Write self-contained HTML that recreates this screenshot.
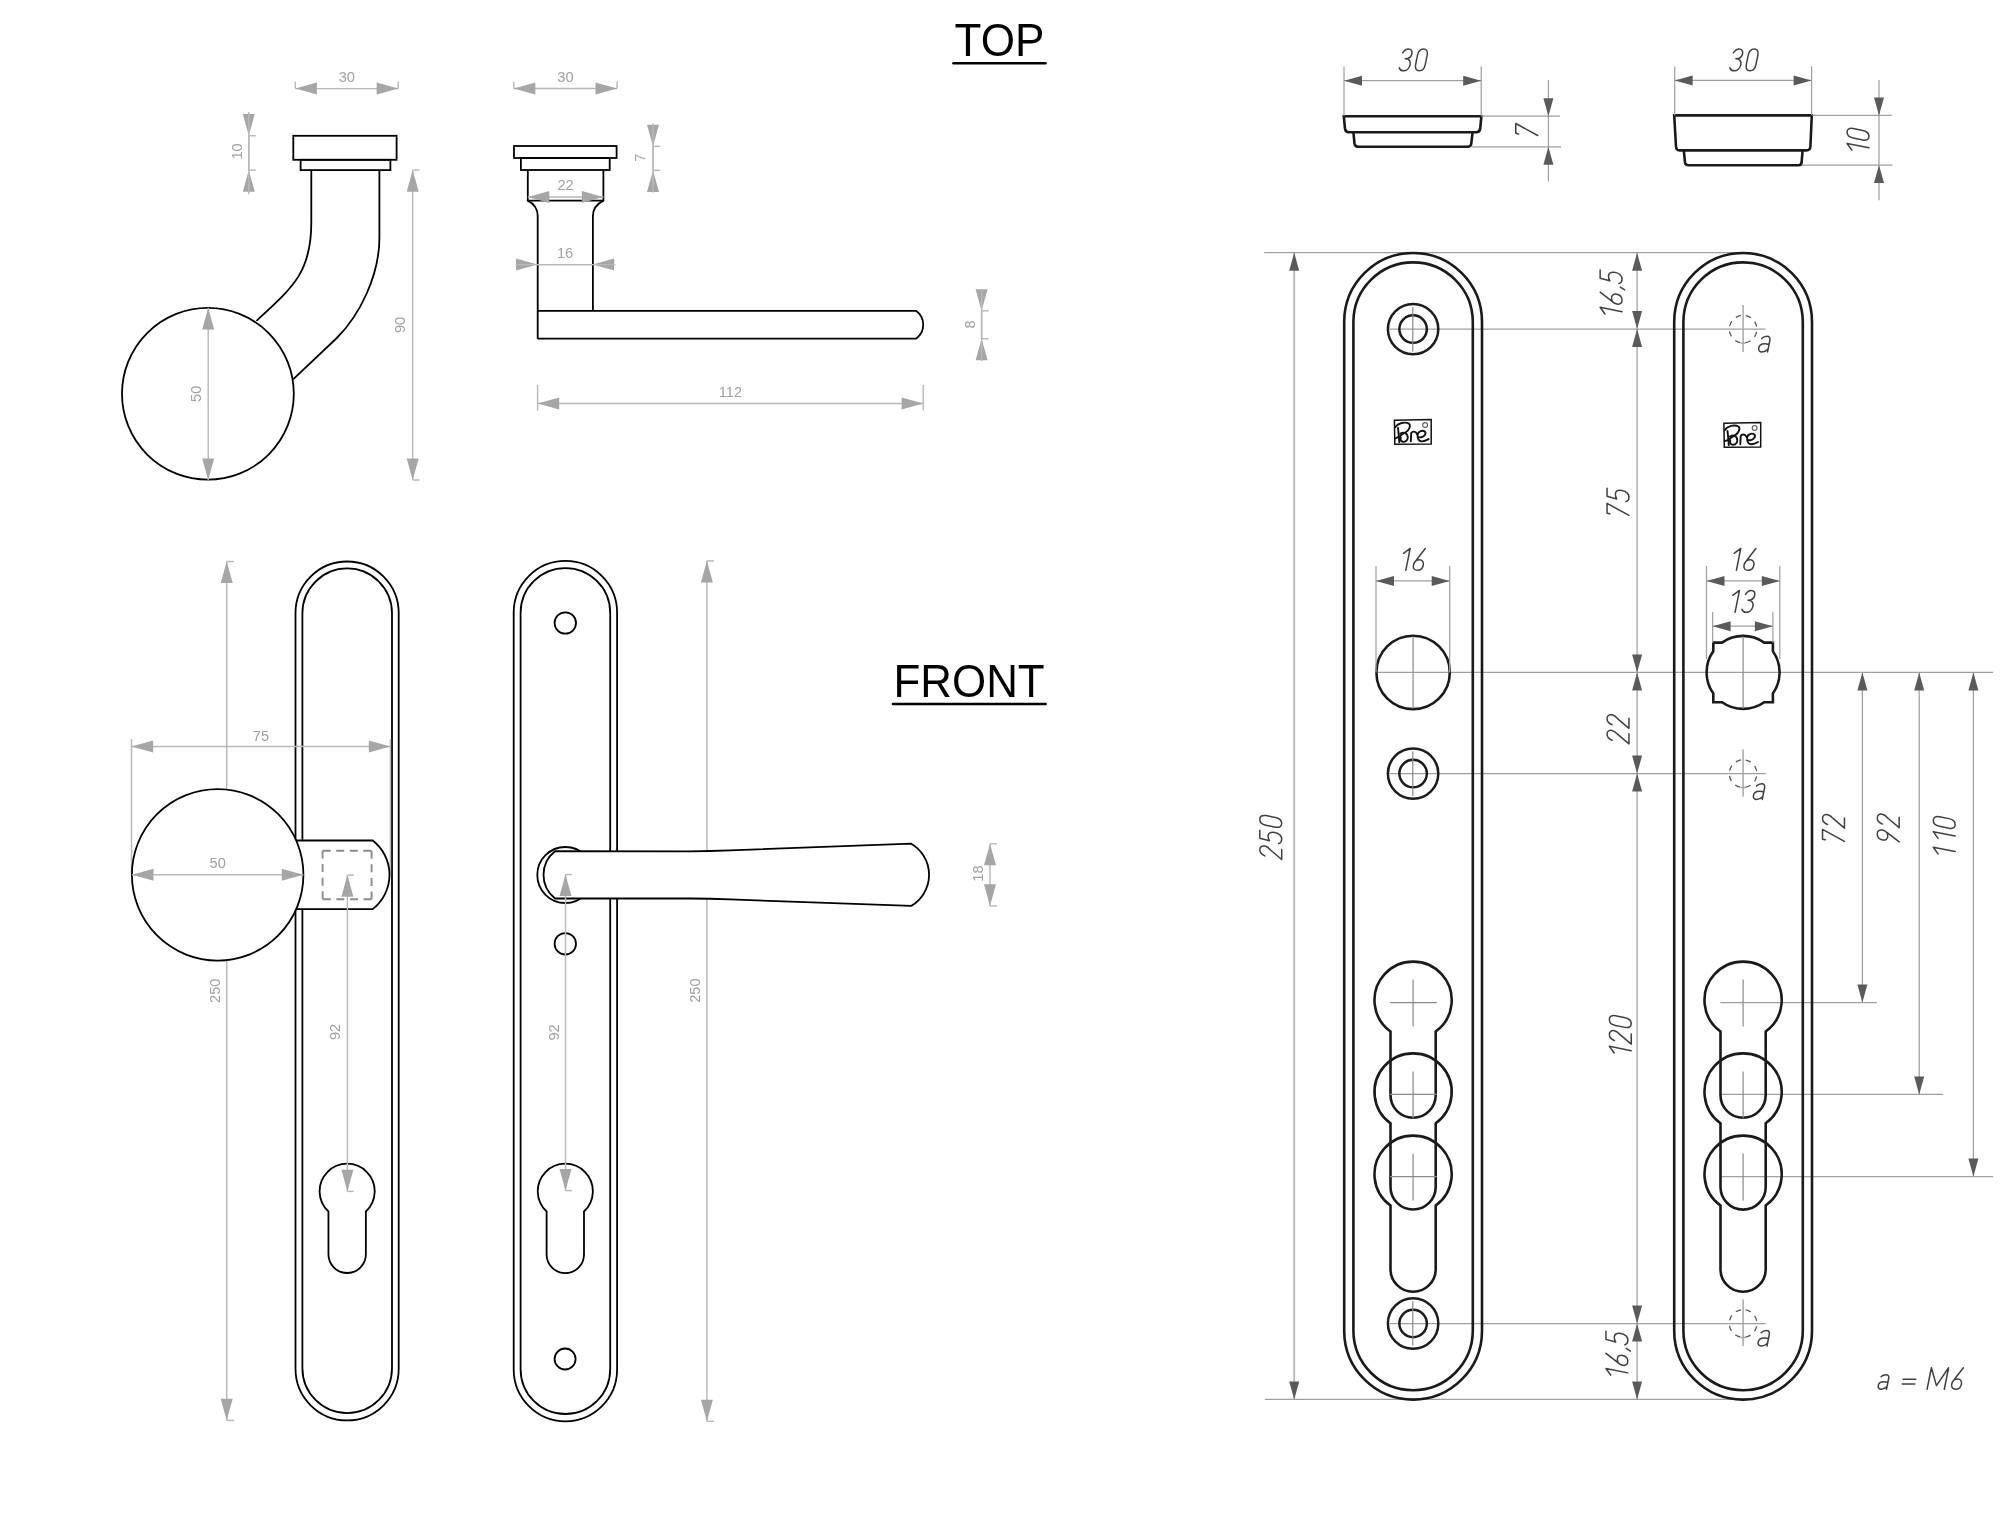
<!DOCTYPE html><html><head><meta charset="utf-8"><style>html,body{margin:0;padding:0;background:#fff;width:2000px;height:1537px;overflow:hidden}</style></head><body><svg width="2000" height="1537" viewBox="0 0 2000 1537" style="position:absolute;left:0;top:0;will-change:transform">
<rect width="2000" height="1537" fill="#fff"/>
<text x="0" y="0" transform="translate(954.5,55.8) scale(0.95,1)" font-family="Liberation Sans, sans-serif" font-size="46.4" fill="#000">TOP</text>
<line x1="953.5" y1="63.2" x2="1045.5" y2="63.2" stroke="#000" stroke-width="2.6" stroke-linecap="round"/>
<text x="0" y="0" transform="translate(893.5,696.8) scale(0.946,1)" font-family="Liberation Sans, sans-serif" font-size="46.4" fill="#000">FRONT</text>
<line x1="893" y1="704" x2="1045.5" y2="704" stroke="#000" stroke-width="2.6" stroke-linecap="round"/>
<rect x="293.3" y="135.8" width="103.3" height="24" stroke="#000" stroke-width="1.8" fill="none"/>
<rect x="300.6" y="159.8" width="89.8" height="10.3" stroke="#000" stroke-width="1.8" fill="none"/>
<path d="M311.3,170.1 L311.3,222.4 C311.3,272.4 293.15,286.9 256.4,320.8" stroke="#000" stroke-width="1.8" fill="none"/>
<path d="M379.4,170.1 L379.4,238 C379.4,275 360,315 336.8,338 L293.1,379.3" stroke="#000" stroke-width="1.8" fill="none"/>
<circle cx="207.9" cy="393.8" r="85.9" stroke="#000" stroke-width="1.8" fill="none"/>
<line x1="295.3" y1="88.6" x2="398.3" y2="88.6" stroke="#b9b9b9" stroke-width="1.45" />
<polygon points="295.3,88.6 316.9,82.6 316.9,94.6" fill="#a6a6a6"/>
<polygon points="398.3,88.6 376.7,94.6 376.7,82.6" fill="#a6a6a6"/>
<text x="346.8" y="82" text-anchor="middle" font-family="Liberation Sans, sans-serif" font-size="14.6" fill="#a0a0a0">30</text>
<line x1="295.3" y1="81.6" x2="295.3" y2="88.6" stroke="#b9b9b9" stroke-width="1.45" />
<line x1="398.3" y1="81.6" x2="398.3" y2="88.6" stroke="#b9b9b9" stroke-width="1.45" />
<line x1="248.8" y1="135.7" x2="248.8" y2="170.1" stroke="#b9b9b9" stroke-width="1.45" />
<polygon points="248.8,135.7 242.8,114.1 254.8,114.1" fill="#a6a6a6"/>
<polygon points="248.8,170.1 254.8,191.7 242.8,191.7" fill="#a6a6a6"/>
<text x="0" y="0" transform="translate(237,151.5) rotate(-90)" text-anchor="middle" dominant-baseline="central" font-family="Liberation Sans, sans-serif" font-size="14.6" fill="#a0a0a0">10</text>
<line x1="248.8" y1="112" x2="248.8" y2="194.3" stroke="#b9b9b9" stroke-width="1.45" />
<line x1="248.8" y1="135.7" x2="255.8" y2="135.7" stroke="#b9b9b9" stroke-width="1.45" />
<line x1="248.8" y1="170.1" x2="255.8" y2="170.1" stroke="#b9b9b9" stroke-width="1.45" />
<line x1="412.7" y1="170.1" x2="412.7" y2="480" stroke="#b9b9b9" stroke-width="1.45" />
<polygon points="412.7,170.1 418.7,191.7 406.7,191.7" fill="#a6a6a6"/>
<polygon points="412.7,480 406.7,458.4 418.7,458.4" fill="#a6a6a6"/>
<text x="0" y="0" transform="translate(400,325) rotate(-90)" text-anchor="middle" dominant-baseline="central" font-family="Liberation Sans, sans-serif" font-size="14.6" fill="#a0a0a0">90</text>
<line x1="412.7" y1="170.1" x2="419.5" y2="170.1" stroke="#b9b9b9" stroke-width="1.45" />
<line x1="412.7" y1="480" x2="419.5" y2="480" stroke="#b9b9b9" stroke-width="1.45" />
<line x1="208.2" y1="307.8" x2="208.2" y2="480" stroke="#b9b9b9" stroke-width="1.45" />
<polygon points="208.2,307.8 214.2,329.4 202.2,329.4" fill="#a6a6a6"/>
<polygon points="208.2,480 202.2,458.4 214.2,458.4" fill="#a6a6a6"/>
<text x="0" y="0" transform="translate(196.2,393.8) rotate(-90)" text-anchor="middle" dominant-baseline="central" font-family="Liberation Sans, sans-serif" font-size="14.6" fill="#a0a0a0">50</text>
<rect x="514" y="146" width="102.6" height="12" stroke="#000" stroke-width="1.8" fill="none"/>
<rect x="520.9" y="158" width="88.8" height="12" stroke="#000" stroke-width="1.8" fill="none"/>
<path d="M527.8,170 L527.8,200.6 L603.4,200.6 L603.4,170" stroke="#000" stroke-width="1.8" fill="none"/>
<path d="M527.8,200.6 C533.5,203.5 537.7,208 537.7,216 L537.7,338.7 M603.4,200.6 C597.7,203.5 592.9,208 592.9,216 L592.9,310.8" stroke="#000" stroke-width="1.8" fill="none"/>
<path d="M537.6,310.8 L916,310.8 A17.1,17.1 0 0 1 916,338.7 L537.6,338.7" stroke="#000" stroke-width="1.8" fill="none"/>
<line x1="513.7" y1="88.5" x2="617.1" y2="88.5" stroke="#b9b9b9" stroke-width="1.45" />
<polygon points="513.7,88.5 535.3,82.5 535.3,94.5" fill="#a6a6a6"/>
<polygon points="617.1,88.5 595.5,94.5 595.5,82.5" fill="#a6a6a6"/>
<text x="565.4" y="82" text-anchor="middle" font-family="Liberation Sans, sans-serif" font-size="14.6" fill="#a0a0a0">30</text>
<line x1="513.7" y1="81.6" x2="513.7" y2="88.5" stroke="#b9b9b9" stroke-width="1.45" />
<line x1="617.1" y1="81.6" x2="617.1" y2="88.5" stroke="#b9b9b9" stroke-width="1.45" />
<line x1="527.8" y1="197" x2="603.4" y2="197" stroke="#b9b9b9" stroke-width="1.45" />
<polygon points="527.8,197 549.4,191 549.4,203" fill="#a6a6a6"/>
<polygon points="603.4,197 581.8,203 581.8,191" fill="#a6a6a6"/>
<text x="565.6" y="190.1" text-anchor="middle" font-family="Liberation Sans, sans-serif" font-size="14.6" fill="#a0a0a0">22</text>
<line x1="537.6" y1="264.6" x2="592.6" y2="264.6" stroke="#b9b9b9" stroke-width="1.45" />
<polygon points="537.6,264.6 516,270.6 516,258.6" fill="#a6a6a6"/>
<polygon points="592.6,264.6 614.2,258.6 614.2,270.6" fill="#a6a6a6"/>
<text x="565.1" y="258" text-anchor="middle" font-family="Liberation Sans, sans-serif" font-size="14.6" fill="#a0a0a0">16</text>
<line x1="515.6" y1="264.6" x2="615.4" y2="264.6" stroke="#b9b9b9" stroke-width="1.45" />
<line x1="653" y1="146.3" x2="653" y2="170.3" stroke="#b9b9b9" stroke-width="1.45" />
<polygon points="653,146.3 647,124.7 659,124.7" fill="#a6a6a6"/>
<polygon points="653,170.3 659,191.9 647,191.9" fill="#a6a6a6"/>
<text x="0" y="0" transform="translate(640,157.7) rotate(-90)" text-anchor="middle" dominant-baseline="central" font-family="Liberation Sans, sans-serif" font-size="14.6" fill="#a0a0a0">7</text>
<line x1="653" y1="123.5" x2="653" y2="192.5" stroke="#b9b9b9" stroke-width="1.45" />
<line x1="653" y1="146.3" x2="660" y2="146.3" stroke="#b9b9b9" stroke-width="1.45" />
<line x1="653" y1="170.3" x2="660" y2="170.3" stroke="#b9b9b9" stroke-width="1.45" />
<line x1="981.6" y1="310.8" x2="981.6" y2="338.7" stroke="#b9b9b9" stroke-width="1.45" />
<polygon points="981.6,310.8 975.6,289.2 987.6,289.2" fill="#a6a6a6"/>
<polygon points="981.6,338.7 987.6,360.3 975.6,360.3" fill="#a6a6a6"/>
<text x="0" y="0" transform="translate(969.6,324.4) rotate(-90)" text-anchor="middle" dominant-baseline="central" font-family="Liberation Sans, sans-serif" font-size="14.6" fill="#a0a0a0">8</text>
<line x1="981.6" y1="288.8" x2="981.6" y2="361.2" stroke="#b9b9b9" stroke-width="1.45" />
<line x1="981.6" y1="310.8" x2="988.6" y2="310.8" stroke="#b9b9b9" stroke-width="1.45" />
<line x1="981.6" y1="338.7" x2="988.6" y2="338.7" stroke="#b9b9b9" stroke-width="1.45" />
<line x1="537.6" y1="403.4" x2="923.2" y2="403.4" stroke="#b9b9b9" stroke-width="1.45" />
<polygon points="537.6,403.4 559.2,397.4 559.2,409.4" fill="#a6a6a6"/>
<polygon points="923.2,403.4 901.6,409.4 901.6,397.4" fill="#a6a6a6"/>
<text x="730.4" y="397" text-anchor="middle" font-family="Liberation Sans, sans-serif" font-size="14.6" fill="#a0a0a0">112</text>
<line x1="537.6" y1="384.9" x2="537.6" y2="410.5" stroke="#b9b9b9" stroke-width="1.45" />
<line x1="923.2" y1="384.9" x2="923.2" y2="410.5" stroke="#b9b9b9" stroke-width="1.45" />
<rect x="295.5" y="561.5" width="103.2" height="858.9" rx="51.6" ry="51.6" stroke="#000" stroke-width="1.8" fill="none"/>
<rect x="302.4" y="568.4" width="89.6" height="844.7" rx="44.8" ry="44.8" stroke="#000" stroke-width="1.8" fill="none"/>
<path d="M328.45,1211.48 A27.55,27.55 0 1 1 365.85,1211.48 L365.85,1254.3 A18.7,18.7 0 0 1 328.45,1254.3 Z" stroke="#000" stroke-width="1.8" fill="none"/>
<line x1="226.7" y1="561.5" x2="226.7" y2="1420.4" stroke="#b9b9b9" stroke-width="1.45" />
<polygon points="226.7,561.5 232.7,583.1 220.7,583.1" fill="#a6a6a6"/>
<polygon points="226.7,1420.4 220.7,1398.8 232.7,1398.8" fill="#a6a6a6"/>
<text x="0" y="0" transform="translate(215,990.8) rotate(-90)" text-anchor="middle" dominant-baseline="central" font-family="Liberation Sans, sans-serif" font-size="14.6" fill="#a0a0a0">250</text>
<line x1="226.7" y1="561.5" x2="234" y2="561.5" stroke="#b9b9b9" stroke-width="1.45" />
<line x1="226.7" y1="1420.4" x2="234" y2="1420.4" stroke="#b9b9b9" stroke-width="1.45" />
<line x1="131.5" y1="739" x2="131.5" y2="874.5" stroke="#b9b9b9" stroke-width="1.45" />
<line x1="390.4" y1="739" x2="390.4" y2="874.5" stroke="#b9b9b9" stroke-width="1.45" />
<line x1="131.5" y1="746.5" x2="390.4" y2="746.5" stroke="#b9b9b9" stroke-width="1.45" />
<polygon points="131.5,746.5 153.1,740.5 153.1,752.5" fill="#a6a6a6"/>
<polygon points="390.4,746.5 368.8,752.5 368.8,740.5" fill="#a6a6a6"/>
<text x="260.95" y="741" text-anchor="middle" font-family="Liberation Sans, sans-serif" font-size="14.6" fill="#a0a0a0">75</text>
<path d="M280,840.5 L372.7,840.5 A43.4,43.4 0 0 1 372.7,909.1 L280,909.1 Z" fill="#fff" stroke="#000" stroke-width="1.8"/>
<circle cx="217.65" cy="874.85" r="85.75" fill="#fff" stroke="#000" stroke-width="1.8"/>
<line x1="322.6" y1="850.7" x2="371.6" y2="850.7" stroke="#8c8c8c" stroke-width="1.9" stroke-dasharray="8,5.6"/>
<line x1="371.6" y1="850.7" x2="371.6" y2="899.3" stroke="#8c8c8c" stroke-width="1.9" stroke-dasharray="8,5.6"/>
<line x1="371.6" y1="899.3" x2="322.6" y2="899.3" stroke="#8c8c8c" stroke-width="1.9" stroke-dasharray="8,5.6"/>
<line x1="322.6" y1="899.3" x2="322.6" y2="850.7" stroke="#8c8c8c" stroke-width="1.9" stroke-dasharray="8,5.6"/>
<line x1="131.9" y1="874.8" x2="303.4" y2="874.8" stroke="#b9b9b9" stroke-width="1.45" />
<polygon points="131.9,874.8 153.5,868.8 153.5,880.8" fill="#a6a6a6"/>
<polygon points="303.4,874.8 281.8,880.8 281.8,868.8" fill="#a6a6a6"/>
<text x="217.65" y="868.3" text-anchor="middle" font-family="Liberation Sans, sans-serif" font-size="14.6" fill="#a0a0a0">50</text>
<line x1="347.4" y1="875.1" x2="347.4" y2="1191.4" stroke="#b9b9b9" stroke-width="1.45" />
<polygon points="347.4,875.1 353.4,896.7 341.4,896.7" fill="#a6a6a6"/>
<polygon points="347.4,1191.4 341.4,1169.8 353.4,1169.8" fill="#a6a6a6"/>
<text x="0" y="0" transform="translate(335.2,1032) rotate(-90)" text-anchor="middle" dominant-baseline="central" font-family="Liberation Sans, sans-serif" font-size="14.6" fill="#a0a0a0">92</text>
<line x1="347.4" y1="875.1" x2="353.8" y2="875.1" stroke="#b9b9b9" stroke-width="1.45" />
<line x1="347.4" y1="1191.4" x2="353.8" y2="1191.4" stroke="#b9b9b9" stroke-width="1.45" />
<rect x="513.7" y="560.9" width="103.4" height="860.4" rx="51.7" ry="51.7" stroke="#000" stroke-width="1.8" fill="none"/>
<rect x="520.6" y="568.1" width="89.6" height="845.9" rx="44.8" ry="44.8" stroke="#000" stroke-width="1.8" fill="none"/>
<circle cx="565.3" cy="623" r="10.7" stroke="#000" stroke-width="1.8" fill="none"/>
<circle cx="565.3" cy="943.8" r="10.7" stroke="#000" stroke-width="1.8" fill="none"/>
<circle cx="565.1" cy="1359" r="10.5" stroke="#000" stroke-width="1.8" fill="none"/>
<path d="M546.6,1211.48 A27.55,27.55 0 1 1 584,1211.48 L584,1254.4 A18.7,18.7 0 0 1 546.6,1254.4 Z" stroke="#000" stroke-width="1.8" fill="none"/>
<line x1="706.9" y1="560.9" x2="706.9" y2="1421.3" stroke="#b9b9b9" stroke-width="1.45" />
<polygon points="706.9,560.9 712.9,582.5 700.9,582.5" fill="#a6a6a6"/>
<polygon points="706.9,1421.3 700.9,1399.7 712.9,1399.7" fill="#a6a6a6"/>
<text x="0" y="0" transform="translate(695.3,990.6) rotate(-90)" text-anchor="middle" dominant-baseline="central" font-family="Liberation Sans, sans-serif" font-size="14.6" fill="#a0a0a0">250</text>
<line x1="706.9" y1="560.9" x2="714" y2="560.9" stroke="#b9b9b9" stroke-width="1.45" />
<line x1="706.9" y1="1421.3" x2="714" y2="1421.3" stroke="#b9b9b9" stroke-width="1.45" />
<circle cx="565.3" cy="875" r="28" fill="#fff" stroke="#000" stroke-width="1.8"/>
<path d="M555,851.2 L690,851.3 Q710,851.2 730,850.4 L911.2,843.7 A36,36 0 0 1 911.2,905.9 L730,899.4 Q710,898.6 690,898.5 L555,898.5 A30.1,30.1 0 0 1 555,851.2 Z" fill="#fff" stroke="#000" stroke-width="1.8"/>
<line x1="565.5" y1="874.5" x2="565.5" y2="1190.6" stroke="#b9b9b9" stroke-width="1.45" />
<polygon points="565.5,874.5 571.5,896.1 559.5,896.1" fill="#a6a6a6"/>
<polygon points="565.5,1190.6 559.5,1169 571.5,1169" fill="#a6a6a6"/>
<text x="0" y="0" transform="translate(553.75,1032.5) rotate(-90)" text-anchor="middle" dominant-baseline="central" font-family="Liberation Sans, sans-serif" font-size="14.6" fill="#a0a0a0">92</text>
<line x1="565.5" y1="874.5" x2="572" y2="874.5" stroke="#b9b9b9" stroke-width="1.45" />
<line x1="565.5" y1="1190.6" x2="572" y2="1190.6" stroke="#b9b9b9" stroke-width="1.45" />
<line x1="990" y1="843.7" x2="990" y2="905.9" stroke="#b9b9b9" stroke-width="1.45" />
<polygon points="990,843.7 996,865.3 984,865.3" fill="#a6a6a6"/>
<polygon points="990,905.9 984,884.3 996,884.3" fill="#a6a6a6"/>
<text x="0" y="0" transform="translate(978.4,873.6) rotate(-90)" text-anchor="middle" dominant-baseline="central" font-family="Liberation Sans, sans-serif" font-size="14.6" fill="#a0a0a0">18</text>
<line x1="990" y1="843.7" x2="996.8" y2="843.7" stroke="#b9b9b9" stroke-width="1.45" />
<line x1="990" y1="905.9" x2="996.8" y2="905.9" stroke="#b9b9b9" stroke-width="1.45" />
<path d="M1343.8,116.2 L1481.4,116.2 L1480.2,128.5 Q1479.8,132.2 1476,132.2 L1349,132.2 Q1345.2,132.2 1345,128.5 Z" stroke="#1a1a1a" stroke-width="2.6" fill="none"/>
<path d="M1353.4,132.2 L1354.5,143.5 Q1355,146.8 1358.5,146.8 L1467.5,146.8 Q1471,146.8 1471.3,143.5 L1472.6,132.2" stroke="#1a1a1a" stroke-width="2.6" fill="none"/>
<line x1="1344" y1="66.4" x2="1344" y2="115.8" stroke="#a0a0a0" stroke-width="1.25" />
<line x1="1481.2" y1="66.4" x2="1481.2" y2="115.8" stroke="#a0a0a0" stroke-width="1.25" />
<line x1="1344" y1="80.7" x2="1481.2" y2="80.7" stroke="#a0a0a0" stroke-width="1.25" />
<polygon points="1344,80.7 1362,75.7 1362,85.7" fill="#5a5a5a"/>
<polygon points="1481.2,80.7 1463.2,85.7 1463.2,75.7" fill="#5a5a5a"/>
<path d="M1402.65,52.89C1404.27,50.26 1406.28,48.95 1408.47,48.95C1411.10,48.95 1412.46,50.92 1411.89,53.77C1411.28,56.83 1408.47,58.80 1405.19,58.80C1409.13,58.80 1410.84,61.21 1410.14,64.72C1409.39,68.44 1406.50,70.85 1403.44,70.85C1401.25,70.85 1399.71,69.75 1399.23,67.78M1423.59,48.95C1426.65,48.95 1427.88,51.58 1427.18,55.08L1425.25,64.72C1424.55,68.22 1422.27,70.85 1419.21,70.85C1416.14,70.85 1414.91,68.22 1415.61,64.72L1417.54,55.08C1418.24,51.58 1420.52,48.95 1423.59,48.95Z" fill="none" stroke="#404040" stroke-width="1.5" stroke-linecap="round" stroke-linejoin="round"/>
<line x1="1481.4" y1="116.2" x2="1559.9" y2="116.2" stroke="#a0a0a0" stroke-width="1.25" />
<line x1="1471" y1="146.8" x2="1561" y2="146.8" stroke="#a0a0a0" stroke-width="1.25" />
<line x1="1548.4" y1="80" x2="1548.4" y2="181.5" stroke="#a0a0a0" stroke-width="1.25" />
<polygon points="1548.4,116.2 1543.4,98.2 1553.4,98.2" fill="#5a5a5a"/>
<polygon points="1548.4,146.8 1553.4,164.8 1543.4,164.8" fill="#5a5a5a"/>
<path d="M1518.60,133.90L1515.75,133.33L1515.75,123.48L1537.65,135.52" fill="none" stroke="#404040" stroke-width="1.5" stroke-linecap="round" stroke-linejoin="round"/>
<path d="M1674.2,115.4 L1811.8,115.4 L1810.4,146.5 Q1810.1,150.4 1806.5,150.4 L1679.5,150.4 Q1676.2,150.4 1676,146.5 Z" stroke="#1a1a1a" stroke-width="2.6" fill="none"/>
<path d="M1683.8,150.4 L1685,162.5 Q1685.4,165.2 1688.5,165.2 L1798.5,165.2 Q1801.3,165.2 1801.6,162.5 L1802.6,150.4" stroke="#1a1a1a" stroke-width="2.6" fill="none"/>
<line x1="1674.7" y1="66.4" x2="1674.7" y2="115.2" stroke="#a0a0a0" stroke-width="1.25" />
<line x1="1811.6" y1="66.4" x2="1811.6" y2="115.2" stroke="#a0a0a0" stroke-width="1.25" />
<line x1="1674.7" y1="80.4" x2="1811.6" y2="80.4" stroke="#a0a0a0" stroke-width="1.25" />
<polygon points="1674.7,80.4 1692.7,75.4 1692.7,85.4" fill="#5a5a5a"/>
<polygon points="1811.6,80.4 1793.6,85.4 1793.6,75.4" fill="#5a5a5a"/>
<path d="M1733.35,52.89C1734.97,50.26 1736.98,48.95 1739.17,48.95C1741.80,48.95 1743.16,50.92 1742.59,53.77C1741.98,56.83 1739.17,58.80 1735.89,58.80C1739.83,58.80 1741.54,61.21 1740.84,64.72C1740.09,68.44 1737.20,70.85 1734.14,70.85C1731.95,70.85 1730.41,69.75 1729.93,67.78M1754.29,48.95C1757.35,48.95 1758.58,51.58 1757.88,55.08L1755.95,64.72C1755.25,68.22 1752.97,70.85 1749.91,70.85C1746.84,70.85 1745.61,68.22 1746.31,64.72L1748.24,55.08C1748.94,51.58 1751.22,48.95 1754.29,48.95Z" fill="none" stroke="#404040" stroke-width="1.5" stroke-linecap="round" stroke-linejoin="round"/>
<line x1="1812.5" y1="115.4" x2="1891.8" y2="115.4" stroke="#a0a0a0" stroke-width="1.25" />
<line x1="1802" y1="165" x2="1892.5" y2="165" stroke="#a0a0a0" stroke-width="1.25" />
<line x1="1879" y1="80" x2="1879" y2="200.3" stroke="#a0a0a0" stroke-width="1.25" />
<polygon points="1879,115.4 1874,97.4 1884,97.4" fill="#5a5a5a"/>
<polygon points="1879,165 1884,183 1874,183" fill="#5a5a5a"/>
<path d="M1851.87,150.11L1847.05,143.46L1868.95,147.84M1847.05,132.07C1847.05,129.00 1849.68,127.78 1853.18,128.48L1862.82,130.40C1866.32,131.10 1868.95,133.38 1868.95,136.45C1868.95,139.51 1866.32,140.74 1862.82,140.04L1853.18,138.11C1849.68,137.41 1847.05,135.13 1847.05,132.07Z" fill="none" stroke="#404040" stroke-width="1.5" stroke-linecap="round" stroke-linejoin="round"/>
<line x1="1264.2" y1="252.7" x2="1745" y2="252.7" stroke="#a0a0a0" stroke-width="1.25" />
<line x1="1265" y1="1399.4" x2="1741" y2="1399.4" stroke="#a0a0a0" stroke-width="1.25" />
<line x1="1389.6" y1="329.1" x2="1765.7" y2="329.1" stroke="#a0a0a0" stroke-width="1.25" />
<line x1="1376" y1="672.4" x2="1993.2" y2="672.4" stroke="#a0a0a0" stroke-width="1.25" />
<line x1="1389.8" y1="773.6" x2="1766" y2="773.6" stroke="#a0a0a0" stroke-width="1.25" />
<line x1="1389.8" y1="1323.5" x2="1765.6" y2="1323.5" stroke="#a0a0a0" stroke-width="1.25" />
<line x1="1720.4" y1="1002.6" x2="1876.9" y2="1002.6" stroke="#a0a0a0" stroke-width="1.25" />
<line x1="1720.4" y1="1094.4" x2="1943.1" y2="1094.4" stroke="#a0a0a0" stroke-width="1.25" />
<line x1="1720.4" y1="1176.6" x2="1993.2" y2="1176.6" stroke="#a0a0a0" stroke-width="1.25" />
<rect x="1344.2" y="253" width="137.8" height="1146.6" rx="68.9" ry="68.9" stroke="#1a1a1a" stroke-width="2.6" fill="none"/>
<rect x="1353.4" y="262.4" width="119.4" height="1127.8" rx="59.7" ry="59.7" stroke="#1a1a1a" stroke-width="2.6" fill="none"/>
<rect x="1674.2" y="253" width="137.8" height="1146.6" rx="68.9" ry="68.9" stroke="#1a1a1a" stroke-width="2.6" fill="none"/>
<rect x="1683.4" y="262.4" width="119.4" height="1127.8" rx="59.7" ry="59.7" stroke="#1a1a1a" stroke-width="2.6" fill="none"/>
<circle cx="1413.1" cy="329.1" r="25.2" stroke="#1c1c1c" stroke-width="2.5" fill="none"/>
<circle cx="1413.1" cy="329.1" r="13.75" stroke="#1c1c1c" stroke-width="2.5" fill="none"/>
<line x1="1412.8" y1="307" x2="1412.8" y2="351.4" stroke="#8a8a8a" stroke-width="1.2" />
<circle cx="1413.1" cy="773.6" r="25.2" stroke="#1c1c1c" stroke-width="2.5" fill="none"/>
<circle cx="1413.1" cy="773.6" r="13.75" stroke="#1c1c1c" stroke-width="2.5" fill="none"/>
<line x1="1412.8" y1="751.5" x2="1412.8" y2="795.9" stroke="#8a8a8a" stroke-width="1.2" />
<circle cx="1413.1" cy="1323.5" r="25.2" stroke="#1c1c1c" stroke-width="2.5" fill="none"/>
<circle cx="1413.1" cy="1323.5" r="13.75" stroke="#1c1c1c" stroke-width="2.5" fill="none"/>
<line x1="1412.8" y1="1301.4" x2="1412.8" y2="1345.8" stroke="#8a8a8a" stroke-width="1.2" />
<line x1="1743.1" y1="305.1" x2="1743.1" y2="351.9" stroke="#a8a8a8" stroke-width="1.5" />
<line x1="1740.6" y1="343.1" x2="1745.6" y2="343.1" stroke="#a8a8a8" stroke-width="1.5" />
<circle cx="1743.1" cy="329.1" r="13.8" fill="none" stroke="#5a5a5a" stroke-width="1.3" stroke-dasharray="5.4,5.44" stroke-dashoffset="-2.7" transform="rotate(-90 1743.1 329.1)"/>
<path d="M1761.73,338.58C1763.21,336.97 1765.18,336.28 1767.02,336.28C1769.32,336.28 1770.38,337.89 1769.88,340.42L1767.58,351.92M1769.05,344.56C1767.76,344.10 1766.20,343.87 1764.59,343.87C1761.60,343.87 1759.20,345.48 1758.70,348.01C1758.19,350.54 1759.76,351.92 1762.06,351.92C1764.36,351.92 1766.43,350.77 1768.13,349.16" fill="none" stroke="#404040" stroke-width="1.5" stroke-linecap="round" stroke-linejoin="round"/>
<line x1="1743.1" y1="749.6" x2="1743.1" y2="796.4" stroke="#a8a8a8" stroke-width="1.5" />
<line x1="1740.6" y1="787.6" x2="1745.6" y2="787.6" stroke="#a8a8a8" stroke-width="1.5" />
<circle cx="1743.1" cy="773.6" r="13.8" fill="none" stroke="#5a5a5a" stroke-width="1.3" stroke-dasharray="5.4,5.44" stroke-dashoffset="-2.7" transform="rotate(-90 1743.1 773.6)"/>
<path d="M1756.43,786.08C1757.91,784.47 1759.88,783.78 1761.72,783.78C1764.02,783.78 1765.08,785.39 1764.58,787.92L1762.28,799.42M1763.75,792.06C1762.46,791.60 1760.90,791.37 1759.29,791.37C1756.30,791.37 1753.90,792.98 1753.40,795.51C1752.89,798.04 1754.46,799.42 1756.76,799.42C1759.06,799.42 1761.13,798.27 1762.83,796.66" fill="none" stroke="#404040" stroke-width="1.5" stroke-linecap="round" stroke-linejoin="round"/>
<line x1="1743.1" y1="1299.5" x2="1743.1" y2="1346.3" stroke="#a8a8a8" stroke-width="1.5" />
<line x1="1740.6" y1="1337.5" x2="1745.6" y2="1337.5" stroke="#a8a8a8" stroke-width="1.5" />
<circle cx="1743.1" cy="1323.5" r="13.8" fill="none" stroke="#5a5a5a" stroke-width="1.3" stroke-dasharray="5.4,5.44" stroke-dashoffset="-2.7" transform="rotate(-90 1743.1 1323.5)"/>
<path d="M1761.13,1332.68C1762.61,1331.07 1764.58,1330.38 1766.42,1330.38C1768.72,1330.38 1769.78,1331.99 1769.28,1334.52L1766.98,1346.02M1768.45,1338.66C1767.16,1338.20 1765.60,1337.97 1763.99,1337.97C1761.00,1337.97 1758.60,1339.58 1758.10,1342.11C1757.59,1344.64 1759.16,1346.02 1761.46,1346.02C1763.76,1346.02 1765.83,1344.87 1767.53,1343.26" fill="none" stroke="#404040" stroke-width="1.5" stroke-linecap="round" stroke-linejoin="round"/>
<circle cx="1413.1" cy="672.4" r="36.7" stroke="#1a1a1a" stroke-width="2.6" fill="none"/>
<line x1="1413.1" y1="636.4" x2="1413.1" y2="708.4" stroke="#8a8a8a" stroke-width="1.2" />
<path d="M1722.02,642.6 A36.5,36.5 0 0 1 1764.18,642.6 L1772.9,642.6 L1772.9,651.32 A36.5,36.5 0 0 1 1772.9,693.48 L1772.9,702.2 L1764.18,702.2 A36.5,36.5 0 0 1 1722.02,702.2 L1713.3,702.2 L1713.3,693.48 A36.5,36.5 0 0 1 1713.3,651.32 L1713.3,642.6 Z" stroke="#1a1a1a" stroke-width="2.6" fill="none"/>
<line x1="1743.1" y1="636.4" x2="1743.1" y2="708.4" stroke="#8a8a8a" stroke-width="1.2" />
<path d="M1390.5,1031.49 A38.6,38.6 0 1 1 1435.7,1031.49 L1435.7,1095.2 A22.6,22.6 0 0 1 1390.5,1095.2 Z" stroke="#1a1a1a" stroke-width="2.6" fill="none"/>
<line x1="1413.1" y1="979.6" x2="1413.1" y2="1026.6" stroke="#8a8a8a" stroke-width="1.2" />
<line x1="1389.9" y1="1002.6" x2="1436.8" y2="1002.6" stroke="#8a8a8a" stroke-width="1.2" />
<path d="M1390.5,1123.29 A38.6,38.6 0 1 1 1435.7,1123.29 L1435.7,1187 A22.6,22.6 0 0 1 1390.5,1187 Z" stroke="#1a1a1a" stroke-width="2.6" fill="none"/>
<line x1="1413.1" y1="1071.4" x2="1413.1" y2="1118.4" stroke="#8a8a8a" stroke-width="1.2" />
<line x1="1389.9" y1="1094.4" x2="1436.8" y2="1094.4" stroke="#8a8a8a" stroke-width="1.2" />
<path d="M1390.5,1205.49 A38.6,38.6 0 1 1 1435.7,1205.49 L1435.7,1269.2 A22.6,22.6 0 0 1 1390.5,1269.2 Z" stroke="#1a1a1a" stroke-width="2.6" fill="none"/>
<line x1="1413.1" y1="1153.6" x2="1413.1" y2="1200.6" stroke="#8a8a8a" stroke-width="1.2" />
<line x1="1389.9" y1="1176.6" x2="1436.8" y2="1176.6" stroke="#8a8a8a" stroke-width="1.2" />
<path d="M1720.5,1031.49 A38.6,38.6 0 1 1 1765.7,1031.49 L1765.7,1095.2 A22.6,22.6 0 0 1 1720.5,1095.2 Z" stroke="#1a1a1a" stroke-width="2.6" fill="none"/>
<line x1="1743.1" y1="979.6" x2="1743.1" y2="1026.6" stroke="#8a8a8a" stroke-width="1.2" />
<path d="M1720.5,1123.29 A38.6,38.6 0 1 1 1765.7,1123.29 L1765.7,1187 A22.6,22.6 0 0 1 1720.5,1187 Z" stroke="#1a1a1a" stroke-width="2.6" fill="none"/>
<line x1="1743.1" y1="1071.4" x2="1743.1" y2="1118.4" stroke="#8a8a8a" stroke-width="1.2" />
<path d="M1720.5,1205.49 A38.6,38.6 0 1 1 1765.7,1205.49 L1765.7,1269.2 A22.6,22.6 0 0 1 1720.5,1269.2 Z" stroke="#1a1a1a" stroke-width="2.6" fill="none"/>
<line x1="1743.1" y1="1153.6" x2="1743.1" y2="1200.6" stroke="#8a8a8a" stroke-width="1.2" />
<path d="M1394.4,420.3 L1431.2,419.6 L1431.2,444.1 L1394.8,444.3 Z" fill="none" stroke="#111" stroke-width="1.5"/>
<path d="M1398,428 C1398.6,433 1399,438 1399.3,442.2" fill="none" stroke="#111" stroke-width="1.9" stroke-linecap="round" stroke-linejoin="round"/>
<path d="M1395.1,427.2 C1398,423 1405,421.5 1409,423.6 C1411,425.5 1409.5,430 1405.8,432.2 C1403.5,433.5 1401,434.5 1399.8,436.5" fill="none" stroke="#111" stroke-width="1.9" stroke-linecap="round" stroke-linejoin="round"/>
<path d="M1400.3,433.6 C1404,431.5 1407.5,433 1407.8,437.5 C1407.8,441 1404.5,442.5 1402,441.5 C1400.5,440.8 1400.3,439 1400.8,437.5" fill="none" stroke="#111" stroke-width="1.9" stroke-linecap="round" stroke-linejoin="round"/>
<path d="M1410.8,441.3 L1411.2,433 C1412.5,431 1415.5,431 1417,434" fill="none" stroke="#111" stroke-width="1.9" stroke-linecap="round" stroke-linejoin="round"/>
<path d="M1417.6,435.7 C1417,432 1422,429.5 1424.8,431.5 C1426.5,433 1425,436.5 1421,437.3 C1418.5,437.8 1417.5,436.5 1417.6,435.7 C1417.5,439 1419,441.6 1422.2,441.4 C1424.5,441.3 1427,440 1428.6,439.1" fill="none" stroke="#111" stroke-width="1.9" stroke-linecap="round" stroke-linejoin="round"/>
<path d="M1395.3,438.3 L1398.2,437.2" fill="none" stroke="#111" stroke-width="1.9" stroke-linecap="round" stroke-linejoin="round"/>
<circle cx="1425.1" cy="425" r="2.4" fill="none" stroke="#555" stroke-width="1.1"/>
<path d="M1723.9,423.2 L1760.7,422.5 L1760.7,447 L1724.3,447.2 Z" fill="none" stroke="#111" stroke-width="1.5"/>
<path d="M1727.5,430.9 C1728.1,435.9 1728.5,440.9 1728.8,445.1" fill="none" stroke="#111" stroke-width="1.9" stroke-linecap="round" stroke-linejoin="round"/>
<path d="M1724.6,430.1 C1727.5,425.9 1734.5,424.4 1738.5,426.5 C1740.5,428.4 1739,432.9 1735.3,435.1 C1733,436.4 1730.5,437.4 1729.3,439.4" fill="none" stroke="#111" stroke-width="1.9" stroke-linecap="round" stroke-linejoin="round"/>
<path d="M1729.8,436.5 C1733.5,434.4 1737,435.9 1737.3,440.4 C1737.3,443.9 1734,445.4 1731.5,444.4 C1730,443.7 1729.8,441.9 1730.3,440.4" fill="none" stroke="#111" stroke-width="1.9" stroke-linecap="round" stroke-linejoin="round"/>
<path d="M1740.3,444.2 L1740.7,435.9 C1742,433.9 1745,433.9 1746.5,436.9" fill="none" stroke="#111" stroke-width="1.9" stroke-linecap="round" stroke-linejoin="round"/>
<path d="M1747.1,438.6 C1746.5,434.9 1751.5,432.4 1754.3,434.4 C1756,435.9 1754.5,439.4 1750.5,440.2 C1748,440.7 1747,439.4 1747.1,438.6 C1747,441.9 1748.5,444.5 1751.7,444.3 C1754,444.2 1756.5,442.9 1758.1,442" fill="none" stroke="#111" stroke-width="1.9" stroke-linecap="round" stroke-linejoin="round"/>
<path d="M1724.8,441.2 L1727.7,440.1" fill="none" stroke="#111" stroke-width="1.9" stroke-linecap="round" stroke-linejoin="round"/>
<circle cx="1754.6" cy="427.9" r="2.4" fill="none" stroke="#555" stroke-width="1.1"/>
<line x1="1376" y1="566" x2="1376" y2="672.4" stroke="#a0a0a0" stroke-width="1.25" />
<line x1="1449.7" y1="566" x2="1449.7" y2="672.4" stroke="#a0a0a0" stroke-width="1.25" />
<line x1="1376" y1="580.9" x2="1449.7" y2="580.9" stroke="#a0a0a0" stroke-width="1.25" />
<polygon points="1376,580.9 1394,575.9 1394,585.9" fill="#5a5a5a"/>
<polygon points="1449.7,580.9 1431.7,585.9 1431.7,575.9" fill="#5a5a5a"/>
<path d="M1403.52,553.27L1410.17,548.45L1405.79,570.35M1425.28,548.45L1415.82,560.71C1414.42,562.25 1413.72,563.56 1413.41,565.09C1412.80,568.16 1414.33,570.35 1417.29,570.35C1420.25,570.35 1422.66,568.16 1423.27,565.09C1423.88,562.03 1422.35,559.84 1419.50,559.84C1417.97,559.84 1416.79,560.28 1415.82,560.71" fill="none" stroke="#404040" stroke-width="1.5" stroke-linecap="round" stroke-linejoin="round"/>
<line x1="1706.5" y1="566" x2="1706.5" y2="659" stroke="#a0a0a0" stroke-width="1.25" />
<line x1="1779.8" y1="566" x2="1779.8" y2="659" stroke="#a0a0a0" stroke-width="1.25" />
<line x1="1706.5" y1="580.9" x2="1779.8" y2="580.9" stroke="#a0a0a0" stroke-width="1.25" />
<polygon points="1706.5,580.9 1724.5,575.9 1724.5,585.9" fill="#5a5a5a"/>
<polygon points="1779.8,580.9 1761.8,585.9 1761.8,575.9" fill="#5a5a5a"/>
<path d="M1734.12,553.27L1740.77,548.45L1736.39,570.35M1755.88,548.45L1746.42,560.71C1745.02,562.25 1744.32,563.56 1744.01,565.09C1743.40,568.16 1744.93,570.35 1747.89,570.35C1750.85,570.35 1753.26,568.16 1753.87,565.09C1754.48,562.03 1752.95,559.84 1750.10,559.84C1748.57,559.84 1747.39,560.28 1746.42,560.71" fill="none" stroke="#404040" stroke-width="1.5" stroke-linecap="round" stroke-linejoin="round"/>
<line x1="1712.6" y1="612" x2="1712.6" y2="642.8" stroke="#a0a0a0" stroke-width="1.25" />
<line x1="1772.9" y1="612" x2="1772.9" y2="642.8" stroke="#a0a0a0" stroke-width="1.25" />
<line x1="1712.6" y1="626.2" x2="1772.9" y2="626.2" stroke="#a0a0a0" stroke-width="1.25" />
<polygon points="1712.6,626.2 1730.6,621.2 1730.6,631.2" fill="#5a5a5a"/>
<polygon points="1772.9,626.2 1754.9,631.2 1754.9,621.2" fill="#5a5a5a"/>
<path d="M1732.79,595.27L1739.45,590.45L1735.07,612.35M1745.45,594.39C1747.07,591.76 1749.09,590.45 1751.28,590.45C1753.90,590.45 1755.26,592.42 1754.69,595.27C1754.08,598.33 1751.28,600.30 1747.99,600.30C1751.93,600.30 1753.64,602.71 1752.94,606.22C1752.20,609.94 1749.30,612.35 1746.24,612.35C1744.05,612.35 1742.52,611.25 1742.03,609.28" fill="none" stroke="#404040" stroke-width="1.5" stroke-linecap="round" stroke-linejoin="round"/>
<line x1="1294.2" y1="252.7" x2="1294.2" y2="1399.4" stroke="#b6b6b6" stroke-width="1.8" />
<polygon points="1294.2,252.7 1299.2,270.7 1289.2,270.7" fill="#5a5a5a"/>
<polygon points="1294.2,1399.4 1289.2,1381.4 1299.2,1381.4" fill="#5a5a5a"/>
<path d="M1264.84,855.90C1261.55,854.58 1259.80,852.26 1259.80,849.85C1259.80,847.01 1261.77,845.43 1264.84,846.04C1267.03,846.48 1268.78,847.93 1270.53,850.03L1281.70,859.49L1281.70,849.41M1259.80,830.14L1259.80,838.25L1269.44,840.83C1268.56,839.34 1268.12,837.72 1268.12,836.19C1268.12,833.12 1270.53,831.63 1274.69,832.46C1279.07,833.34 1281.70,836.27 1281.70,839.34C1281.70,841.53 1280.61,843.06 1278.63,843.55M1259.80,819.19C1259.80,816.13 1262.43,814.90 1265.93,815.60L1275.57,817.53C1279.07,818.23 1281.70,820.51 1281.70,823.57C1281.70,826.64 1279.07,827.87 1275.57,827.16L1265.93,825.24C1262.43,824.54 1259.80,822.26 1259.80,819.19Z" fill="none" stroke="#404040" stroke-width="1.5" stroke-linecap="round" stroke-linejoin="round"/>
<line x1="1637.1" y1="252.7" x2="1637.1" y2="1399.4" stroke="#a0a0a0" stroke-width="1.25" />
<polygon points="1637.1,252.7 1642.1,270.7 1632.1,270.7" fill="#5a5a5a"/>
<polygon points="1637.1,329.1 1632.1,311.1 1642.1,311.1" fill="#5a5a5a"/>
<path d="M1604.97,313.94L1600.15,307.29L1622.05,311.67M1600.15,292.18L1612.41,301.64C1613.95,303.04 1615.26,303.74 1616.79,304.05C1619.86,304.66 1622.05,303.13 1622.05,300.17C1622.05,297.21 1619.86,294.80 1616.79,294.19C1613.73,293.58 1611.54,295.11 1611.54,297.96C1611.54,299.49 1611.98,300.67 1612.41,301.64M1620.30,287.23L1624.68,289.85M1600.15,270.06L1600.15,278.16L1609.79,280.74C1608.91,279.25 1608.47,277.63 1608.47,276.10C1608.47,273.03 1610.88,271.55 1615.04,272.38C1619.42,273.25 1622.05,276.19 1622.05,279.25C1622.05,281.44 1620.95,282.98 1618.98,283.46" fill="none" stroke="#404040" stroke-width="1.5" stroke-linecap="round" stroke-linejoin="round"/>
<polygon points="1637.1,329.1 1642.1,347.1 1632.1,347.1" fill="#5a5a5a"/>
<polygon points="1637.1,672.4 1632.1,654.4 1642.1,654.4" fill="#5a5a5a"/>
<path d="M1609.90,513.76L1607.05,513.19L1607.05,503.33L1628.95,515.38M1607.05,488.22L1607.05,496.32L1616.69,498.91C1615.81,497.42 1615.37,495.80 1615.37,494.27C1615.37,491.20 1617.78,489.71 1621.94,490.54C1626.32,491.42 1628.95,494.35 1628.95,497.42C1628.95,499.61 1627.86,501.14 1625.88,501.62" fill="none" stroke="#404040" stroke-width="1.5" stroke-linecap="round" stroke-linejoin="round"/>
<polygon points="1637.1,672.4 1642.1,690.4 1632.1,690.4" fill="#5a5a5a"/>
<polygon points="1637.1,773.6 1632.1,755.6 1642.1,755.6" fill="#5a5a5a"/>
<path d="M1612.09,740.27C1608.80,738.95 1607.05,736.63 1607.05,734.22C1607.05,731.37 1609.02,729.80 1612.09,730.41C1614.28,730.85 1616.03,732.29 1617.78,734.40L1628.95,743.86L1628.95,733.78M1612.09,724.72C1608.80,723.40 1607.05,721.08 1607.05,718.67C1607.05,715.83 1609.02,714.25 1612.09,714.86C1614.28,715.30 1616.03,716.75 1617.78,718.85L1628.95,728.31L1628.95,718.23" fill="none" stroke="#404040" stroke-width="1.5" stroke-linecap="round" stroke-linejoin="round"/>
<polygon points="1637.1,773.6 1642.1,791.6 1632.1,791.6" fill="#5a5a5a"/>
<polygon points="1637.1,1323.5 1632.1,1305.5 1642.1,1305.5" fill="#5a5a5a"/>
<path d="M1614.17,1052.99L1609.35,1046.33L1631.25,1050.71M1614.39,1040.55C1611.10,1039.23 1609.35,1036.91 1609.35,1034.50C1609.35,1031.66 1611.32,1030.08 1614.39,1030.69C1616.58,1031.13 1618.33,1032.58 1620.08,1034.68L1631.25,1044.14L1631.25,1034.07M1609.35,1019.39C1609.35,1016.33 1611.98,1015.10 1615.48,1015.80L1625.12,1017.73C1628.62,1018.43 1631.25,1020.71 1631.25,1023.77C1631.25,1026.84 1628.62,1028.07 1625.12,1027.37L1615.48,1025.44C1611.98,1024.74 1609.35,1022.46 1609.35,1019.39Z" fill="none" stroke="#404040" stroke-width="1.5" stroke-linecap="round" stroke-linejoin="round"/>
<polygon points="1637.1,1323.5 1642.1,1341.5 1632.1,1341.5" fill="#5a5a5a"/>
<polygon points="1637.1,1399.4 1632.1,1381.4 1642.1,1381.4" fill="#5a5a5a"/>
<path d="M1610.77,1375.14L1605.95,1368.49L1627.85,1372.87M1605.95,1353.38L1618.21,1362.84C1619.75,1364.24 1621.06,1364.94 1622.59,1365.25C1625.66,1365.86 1627.85,1364.33 1627.85,1361.37C1627.85,1358.41 1625.66,1356.00 1622.59,1355.39C1619.53,1354.78 1617.34,1356.31 1617.34,1359.16C1617.34,1360.69 1617.78,1361.87 1618.21,1362.84M1626.10,1348.43L1630.48,1351.05M1605.95,1331.26L1605.95,1339.36L1615.59,1341.94C1614.71,1340.45 1614.27,1338.83 1614.27,1337.30C1614.27,1334.23 1616.68,1332.75 1620.84,1333.58C1625.22,1334.45 1627.85,1337.39 1627.85,1340.45C1627.85,1342.64 1626.76,1344.18 1624.78,1344.66" fill="none" stroke="#404040" stroke-width="1.5" stroke-linecap="round" stroke-linejoin="round"/>
<line x1="1862.4" y1="672.4" x2="1862.4" y2="1002.6" stroke="#a0a0a0" stroke-width="1.25" />
<polygon points="1862.4,672.4 1867.4,690.4 1857.4,690.4" fill="#5a5a5a"/>
<polygon points="1862.4,1002.6 1857.4,984.6 1867.4,984.6" fill="#5a5a5a"/>
<path d="M1825.40,839.84L1822.55,839.27L1822.55,829.42L1844.45,841.46M1827.59,824.51C1824.30,823.20 1822.55,820.88 1822.55,818.47C1822.55,815.62 1824.52,814.04 1827.59,814.66C1829.78,815.09 1831.53,816.54 1833.28,818.64L1844.45,828.10L1844.45,818.03" fill="none" stroke="#404040" stroke-width="1.5" stroke-linecap="round" stroke-linejoin="round"/>
<line x1="1919.2" y1="672.4" x2="1919.2" y2="1094.4" stroke="#a0a0a0" stroke-width="1.25" />
<polygon points="1919.2,672.4 1924.2,690.4 1914.2,690.4" fill="#5a5a5a"/>
<polygon points="1919.2,1094.4 1914.2,1076.4 1924.2,1076.4" fill="#5a5a5a"/>
<path d="M1899.15,841.90L1886.89,832.44C1885.35,831.04 1884.04,830.34 1882.51,830.03C1879.44,829.42 1877.25,830.95 1877.25,833.91C1877.25,836.86 1879.44,839.27 1882.51,839.89C1885.57,840.50 1887.76,838.97 1887.76,836.12C1887.76,834.59 1887.32,833.40 1886.89,832.44M1882.29,824.07C1879.00,822.76 1877.25,820.44 1877.25,818.03C1877.25,815.18 1879.22,813.61 1882.29,814.22C1884.48,814.66 1886.23,816.10 1887.98,818.20L1899.15,827.67L1899.15,817.59" fill="none" stroke="#404040" stroke-width="1.5" stroke-linecap="round" stroke-linejoin="round"/>
<line x1="1973.4" y1="672.4" x2="1973.4" y2="1176.6" stroke="#a0a0a0" stroke-width="1.25" />
<polygon points="1973.4,672.4 1978.4,690.4 1968.4,690.4" fill="#5a5a5a"/>
<polygon points="1973.4,1176.6 1968.4,1158.6 1978.4,1158.6" fill="#5a5a5a"/>
<path d="M1938.07,853.89L1933.25,847.23L1955.15,851.61M1938.07,838.34L1933.25,831.68L1955.15,836.06M1933.25,820.29C1933.25,817.23 1935.88,816.00 1939.38,816.70L1949.02,818.63C1952.52,819.33 1955.15,821.61 1955.15,824.67C1955.15,827.74 1952.52,828.97 1949.02,828.27L1939.38,826.34C1935.88,825.64 1933.25,823.36 1933.25,820.29Z" fill="none" stroke="#404040" stroke-width="1.5" stroke-linecap="round" stroke-linejoin="round"/>
<path d="M1881.05,1376.78C1882.43,1375.28 1884.27,1374.63 1885.99,1374.63C1888.14,1374.63 1889.13,1376.13 1888.66,1378.50L1886.51,1389.25M1887.89,1382.37C1886.68,1381.94 1885.22,1381.72 1883.72,1381.72C1880.92,1381.72 1878.68,1383.23 1878.21,1385.60C1877.74,1387.96 1879.20,1389.25 1881.35,1389.25C1883.50,1389.25 1885.44,1388.17 1887.03,1386.67M1903.11,1379.36L1915.79,1379.36M1902.21,1383.88L1914.89,1383.88M1927.10,1389.25L1931.40,1367.75L1936.43,1385.60L1948.60,1367.75L1944.30,1389.25M1963.37,1367.75L1954.09,1379.79C1952.71,1381.30 1952.02,1382.59 1951.72,1384.09C1951.12,1387.10 1952.62,1389.25 1955.53,1389.25C1958.43,1389.25 1960.79,1387.10 1961.40,1384.09C1962.00,1381.08 1960.49,1378.93 1957.70,1378.93C1956.19,1378.93 1955.03,1379.36 1954.09,1379.79" fill="none" stroke="#404040" stroke-width="1.5" stroke-linecap="round" stroke-linejoin="round"/>
</svg></body></html>
